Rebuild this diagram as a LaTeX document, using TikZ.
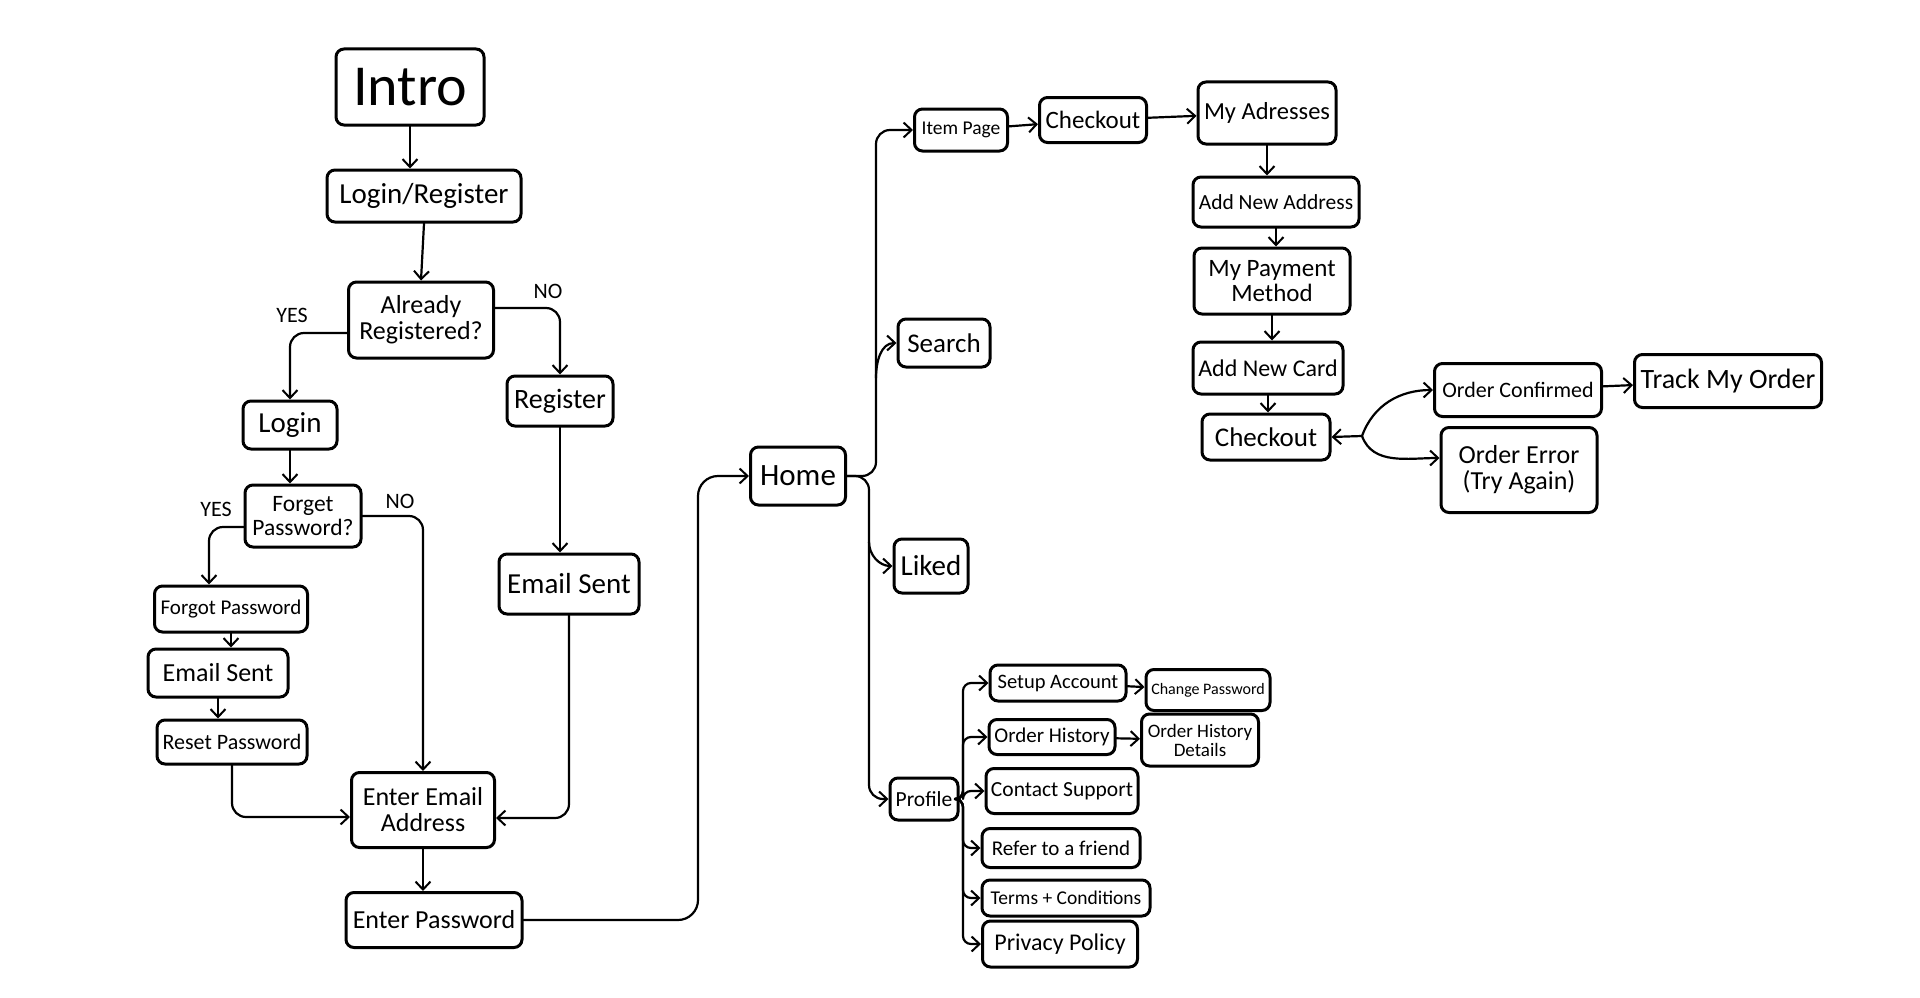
\documentclass[tikz,border=0pt]{standalone}
\usepackage{fontspec}
\setmainfont{Carlito}
\usetikzlibrary{arrows.meta}

\begin{document}
\begin{tikzpicture}[x=1pt,y=-1pt,
  box/.style={draw,line width=3pt,rounded corners=8pt,align=center,inner sep=1pt},
  sz/.style 2 args={minimum width=#1pt,minimum height=#2pt},
  fs/.style={font=\fontsize{#1}{#1}\selectfont},
  lbl/.style={font=\fontsize{22}{22}\selectfont},
  conn/.style={line width=2.2pt,line cap=round,line join=round,
    -{Straight Barb[length=8pt,width=15pt,line width=2pt]}}]

\fill[white] (0,0) rectangle (1920,998);
\useasboundingbox (0,0) rectangle (1920,998);

\node[box,sz={148}{76},fs=58] (intro) at (410,87) {Intro};
\node[box,sz={194}{52},fs=29] (logreg) at (424,196) {Login/Register};
\node[box,sz={145}{76},fs=26] (already) at (421,320) {Already\\Registered?};
\node[box,sz={94}{48},fs=29] (login) at (290,425) {Login};
\node[box,sz={106}{50},fs=28] (register) at (560,401) {Register};
\node[box,sz={116}{62},fs=23.5] (forget) at (303,516) {Forget\\Password?};
\node[box,sz={153}{46},fs=21] (forgot) at (231,609) {Forgot Password};
\node[box,sz={140}{48},fs=26] (sentA) at (218,673) {Email Sent};
\node[box,sz={150}{44},fs=22] (reset) at (232,742) {Reset Password};
\node[box,sz={140}{60},fs=29] (sentB) at (569,584) {Email Sent};
\node[box,sz={143}{75},fs=26] (email) at (423,810) {Enter Email\\Address};
\node[box,sz={176}{55},fs=26] (passwd) at (434,920) {Enter Password};
\node[box,sz={95}{58},fs=31] (home) at (798,476) {Home};

\node[lbl] (yesA) at (292,315) {YES};
\node[lbl] (noA) at (548,291) {NO};
\node[lbl] (yesB) at (216,509) {YES};
\node[lbl] (noB) at (400,501) {NO};

\node[box,sz={93}{42},fs=19.5] (item) at (961,130) {Item Page};
\node[box,sz={92}{48},fs=27] (search) at (944,343) {Search};
\node[box,sz={74}{54},fs=29] (liked) at (931,566) {Liked};
\node[box,sz={68}{42},fs=21.5] (profile) at (924,799) {Profile};

\node[box,sz={107}{45},fs=25] (checkA) at (1093,120) {Checkout};
\node[box,sz={138}{62},fs=24.5] (addr) at (1267,113) {My Adresses};
\node[box,sz={166}{50},fs=21.5] (newaddr) at (1276,202) {Add New Address};
\node[box,sz={156}{66},fs=25] (pay) at (1272,281) {My Payment\\Method};
\node[box,sz={150}{52},fs=24] (card) at (1268,368) {Add New Card};
\node[box,sz={128}{46},fs=27] (checkB) at (1266,437) {Checkout};
\node[box,sz={167}{53},fs=22] (conf) at (1518,390) {Order Confirmed};
\node[box,sz={187}{53},fs=28] (track) at (1728,381) {Track My Order};
\node[box,sz={156}{85},fs=26] (error) at (1519,470) {Order Error\\(Try Again)};

\node[box,sz={136}{36},fs=20.5] (setup) at (1058,683) {Setup Account};
\node[box,sz={124}{41},fs=16] (chpw) at (1208,690) {Change Password};
\node[box,sz={126}{35},fs=21] (hist) at (1052,737) {Order History};
\node[box,sz={117}{52},fs=19] (histdet) at (1200,740) {Order History\\Details};
\node[box,sz={152}{45},fs=21.5] (support) at (1062,791) {Contact Support};
\node[box,sz={158}{39},fs=21] (refer) at (1061,848) {Refer to a friend};
\node[box,sz={168}{36},fs=19.5] (terms) at (1066,898) {Terms + Conditions};
\node[box,sz={155}{46},fs=24] (privacy) at (1060,944) {Privacy Policy};

\coordinate (bend) at (698,700);
\coordinate (hubU) at (876,378);
\coordinate (hubD) at (869,542);
\coordinate (split) at (1362,436);
\coordinate (ptrunk) at (963,799);

\draw[conn] (intro.south) -- (intro.south |- logreg.north);
\draw[conn] (logreg.south) -- (already.north);
\draw[conn,rounded corners=14pt] ([yshift=-13pt]already.west) -| (login.north);
\draw[conn,rounded corners=14pt] ([yshift=12pt]already.east) -| (register.north);
\draw[conn] (login.south) -- (login.south |- forget.north);
\draw[conn,rounded corners=14pt] ([yshift=-11pt]forget.west) -| ([xshift=-22pt]forgot.north);
\draw[conn,rounded corners=14pt] (forget.east) -| (email.north);
\draw[conn] (forgot.south) -- (forgot.south |- sentA.north);
\draw[conn] (sentA.south) -- (sentA.south |- reset.north);
\draw[conn,rounded corners=14pt] (reset.south) |- ([yshift=-7pt]email.west);
\draw[conn] (register.south) -- (register.south |- sentB.north);
\draw[conn,rounded corners=14pt] (sentB.south) |- ([yshift=-8pt]email.east);
\draw[conn] (email.south) -- (email.south |- passwd.north);
\draw[conn,rounded corners=20pt] (passwd.east) -| (bend) |- (home.west);

\draw[conn,rounded corners=14pt] (home.east) -| (hubU) |- (item.west);
\draw[conn] (hubU) to[out=90,in=180] (search.west);
\draw[conn,rounded corners=14pt] (home.east) -| (hubD) |- (profile.west);
\draw[conn] (hubD) to[out=-90,in=180] (liked.west);

\draw[conn] (item) -- (checkA);
\draw[conn] (checkA) -- (addr);
\draw[conn] (addr.south) -- (addr.south |- newaddr.north);
\draw[conn] (newaddr.south) -- (newaddr.south |- pay.north);
\draw[conn] (pay.south) -- (pay.south |- card.north);
\draw[conn] (card.south) -- (card.south |- checkB.north);
\draw[conn] (split) -- (checkB.east);
\draw[conn] (split) to[out=70,in=180] (conf.west);
\draw[conn] (split) to[out=-70,in=180] ([yshift=12pt]error.west);
\draw[conn] (conf) -- (track);

\draw[conn,rounded corners=8pt] (profile.east) -- (ptrunk) |- (setup.west);
\draw[conn,rounded corners=8pt] (profile.east) -- (ptrunk) |- (hist.west);
\draw[conn,rounded corners=8pt] (profile.east) -- (ptrunk) |- (support.west);
\draw[conn,rounded corners=8pt] (profile.east) -- (ptrunk) |- (refer.west);
\draw[conn,rounded corners=8pt] (profile.east) -- (ptrunk) |- (terms.west);
\draw[conn,rounded corners=8pt] (profile.east) -- (ptrunk) |- (privacy.west);
\draw[conn] (setup) -- (chpw);
\draw[conn] (hist) -- (histdet);
\end{tikzpicture}
\end{document}
